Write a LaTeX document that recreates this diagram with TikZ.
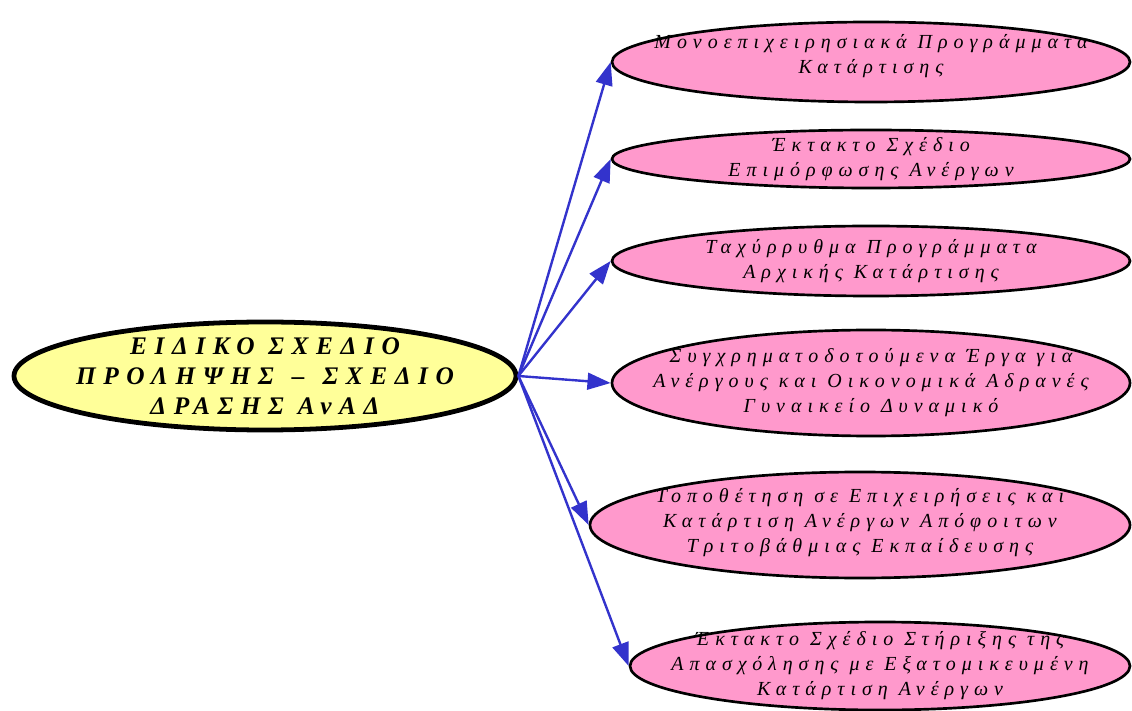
\documentclass[tikz,border=0pt]{standalone}
\usepackage{fontspec}
\setmainfont{Liberation Serif}
\newfontfamily\spaced[LetterSpace=30]{Liberation Serif}
\usetikzlibrary{shapes.geometric,arrows.meta}

\definecolor{yellowfill}{HTML}{FFFF99}
\definecolor{pinkfill}{HTML}{FF99CC}
\definecolor{linkblue}{HTML}{3333CC}

\tikzset{
  mainell/.style={ellipse, draw=black, line width=3.4pt, fill=yellowfill, inner sep=0pt},
  subell/.style={ellipse, draw=black, line width=1.9pt, fill=pinkfill, inner sep=0pt, minimum width=12.95cm},
  maintxt/.style={align=center, font={\spaced\bfseries\itshape\fontsize{18}{21.5}\selectfont}},
  subtxt/.style={align=center, font={\spaced\itshape\fontsize{14.2}{17.8}\selectfont}},
  link/.style={draw=linkblue, line width=1.7pt, -{Triangle[length=0.58cm,width=0.42cm]}}
}

\begin{document}
\begin{tikzpicture}
  \useasboundingbox (0,0) rectangle (28.3,17.75);

  % 1. 中心椭圆
  \node[mainell, minimum width=12.55cm, minimum height=2.7cm] (main) at (6.625,8.35) {};
  \node[maintxt] (maintext) at (main.center) {ΕΙΔΙΚΟ ΣΧΕΔΙΟ\\ΠΡΟΛΗΨΗΣ \,–\, ΣΧΕΔΙΟ\\ΔΡΑΣΗΣ ΑνΑΔ};

  % 2. 右侧六个椭圆（自上而下）
  \node[subell, minimum height=2.0cm] (mono) at (21.775,16.2) {};
  \node[subtxt, yshift=0.15cm] (monotext) at (mono.center) {Μονοεπιχειρησιακά Προγράμματα\\Κατάρτισης};

  \node[subell, minimum height=1.45cm] (epim) at (21.775,13.775) {};
  \node[subtxt] (epimtext) at (epim.center) {Έκτακτο Σχέδιο\\Επιμόρφωσης Ανέργων};

  \node[subell, minimum height=1.75cm] (taxy) at (21.775,11.225) {};
  \node[subtxt] (taxytext) at (taxy.center) {Ταχύρρυθμα Προγράμματα\\Αρχικής Κατάρτισης};

  \node[subell, minimum height=2.65cm] (sygx) at (21.775,8.175) {};
  \node[subtxt] (sygxtext) at (sygx.center) {Συγχρηματοδοτούμενα Έργα για\\Ανέργους και Οικονομικά Αδρανές\\Γυναικείο Δυναμικό};

  \node[subell, minimum width=13.5cm, minimum height=2.65cm] (topo) at (21.5,4.625) {};
  \node[subtxt, yshift=0.05cm] (topotext) at (topo.center) {Τοποθέτηση σε Επιχειρήσεις και\\Κατάρτιση Ανέργων Απόφοιτων\\Τριτοβάθμιας Εκπαίδευσης};

  \node[subell, minimum width=12.5cm, minimum height=2.2cm] (stir) at (22.0,1.1) {};
  \node[subtxt] (stirtext) at (stir.center) {Έκτακτο Σχέδιο Στήριξης της\\Απασχόλησης με Εξατομικευμένη\\Κατάρτιση Ανέργων};

  % 3. 箭头
  \foreach \target in {mono,epim,taxy,sygx,topo,stir}
    \draw[link] (main.east) -- (\target.west);

\end{tikzpicture}
\end{document}
